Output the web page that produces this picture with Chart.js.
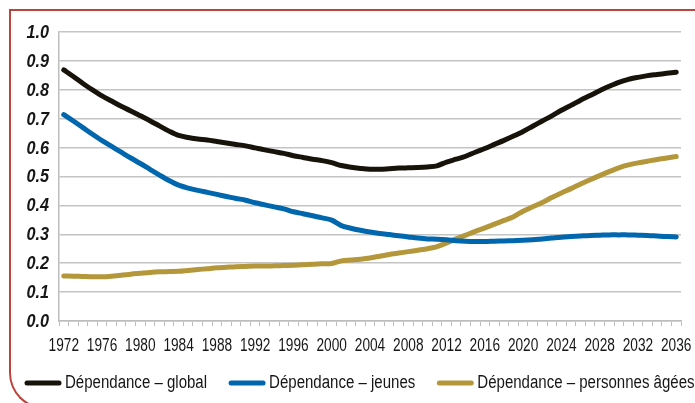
<!DOCTYPE html>
<html>
<head>
<meta charset="utf-8">
<script src="https://cdn.jsdelivr.net/npm/chart.js@4/dist/chart.umd.min.js"></script>
<style>
  html, body { margin: 0; padding: 0; background: #fff; }
  #wrap { position: relative; width: 695px; height: 403px; overflow: hidden; }
  #frame {
    position: absolute; left: 9px; top: 9px; width: 720px; height: 400px;
    border-top: 2px solid #b8453e; border-left: 2px solid #b8453e; border-bottom: 2px solid #b8453e;
    border-bottom-left-radius: 36px; box-sizing: border-box;
  }
  canvas { position: absolute; left: 0; top: 0; }
</style>
</head>
<body>
<div id="wrap">
  <div id="frame"></div>
  <canvas id="chart" width="695" height="403"></canvas>
</div>
<script>
const FONT = "'Liberation Sans', Arial, sans-serif";
const TEXT_COLOR = '#161616';

// années 1972 - 2036
const years = [];
for (let y = 1972; y <= 2036; y++) years.push(String(y));

const seriesLabels = ['Dépendance – global', 'Dépendance – jeunes', 'Dépendance – personnes âgées'];

const global = [
  0.869, 0.846, 0.822, 0.800, 0.779, 0.761, 0.743, 0.727, 0.710, 0.693,
  0.675, 0.657, 0.642, 0.635, 0.630, 0.626, 0.621, 0.616, 0.611, 0.606,
  0.599, 0.592, 0.586, 0.580, 0.572, 0.566, 0.560, 0.555, 0.548, 0.538,
  0.532, 0.528, 0.525, 0.525, 0.527, 0.529, 0.530, 0.531, 0.533, 0.537,
  0.550, 0.560, 0.570, 0.584, 0.597, 0.611, 0.625, 0.640, 0.656, 0.674,
  0.692, 0.710, 0.729, 0.746, 0.764, 0.780, 0.797, 0.812, 0.826, 0.836,
  0.843, 0.849, 0.853, 0.857, 0.861
];

const jeunes = [
  0.714, 0.692, 0.669, 0.646, 0.624, 0.604, 0.584, 0.564, 0.545, 0.525,
  0.505, 0.486, 0.470, 0.460, 0.452, 0.445, 0.438, 0.431, 0.424, 0.418,
  0.409, 0.402, 0.395, 0.388, 0.378, 0.371, 0.364, 0.357, 0.349, 0.330,
  0.321, 0.314, 0.308, 0.303, 0.299, 0.295, 0.291, 0.287, 0.284, 0.283,
  0.281, 0.278, 0.276, 0.275, 0.275, 0.276, 0.277, 0.278, 0.279, 0.281,
  0.284, 0.287, 0.290, 0.292, 0.294, 0.296, 0.297, 0.298, 0.298, 0.298,
  0.297, 0.296, 0.294, 0.292, 0.291
];

const agees = [
  0.156, 0.155, 0.154, 0.153, 0.153, 0.155, 0.158, 0.162, 0.165, 0.168,
  0.170, 0.171, 0.172, 0.175, 0.178, 0.181, 0.184, 0.186, 0.188, 0.189,
  0.190, 0.190, 0.191, 0.192, 0.193, 0.195, 0.196, 0.198, 0.199, 0.208,
  0.211, 0.214, 0.218, 0.224, 0.230, 0.235, 0.240, 0.245, 0.250, 0.257,
  0.270, 0.284, 0.297, 0.310, 0.322, 0.335, 0.348, 0.361, 0.380, 0.395,
  0.410, 0.427, 0.443, 0.458, 0.474, 0.489, 0.503, 0.517, 0.530, 0.540,
  0.547, 0.553, 0.559, 0.564, 0.569
];

const colors = ['#17130b', '#0066ad', '#b5973b'];

function makeDataset(label, data, color) {
    return {
        label: label,
        data: data,
        borderColor: color,
        backgroundColor: color,
        borderWidth: 5,
        pointRadius: 0,
        tension: 0.3,
        borderCapStyle: 'round',
        fill: false
    };
}

// texte condensé (pas de police étroite installée)
function drawText(ctx, text, x, y, sx, align, font) {
    ctx.save();
    ctx.font = font;
    ctx.fillStyle = TEXT_COLOR;
    ctx.textBaseline = 'middle';
    ctx.textAlign = align;
    ctx.translate(x, y);
    ctx.scale(sx, 1);
    ctx.fillText(text, 0, 0);
    ctx.restore();
}

const textPlugin = {
    id: 'condensedText',
    afterDraw(chart) {
        const ctx = chart.ctx;
        const xs = chart.scales.x, ys = chart.scales.y;

        // axe y
        ys.ticks.forEach(t => {
            drawText(ctx, t.value.toFixed(1), 49, ys.getPixelForValue(t.value) + 1, 0.9, 'right',
                'italic bold 18px ' + FONT);
        });

        // axe x
        years.forEach((yr, i) => {
            if (i % 4 !== 0) return;
            drawText(ctx, yr, xs.getPixelForValue(i), 346, 0.76, 'center', '18px ' + FONT);
        });

        // légende
        const legendFont = '18px ' + FONT;
        const sx = 0.835;
        let x = 25;
        const y = 383;
        ctx.save();
        ctx.font = legendFont;
        chart.data.datasets.forEach((ds, i) => {
            ctx.save();
            ctx.strokeStyle = ds.borderColor;
            ctx.lineWidth = 5;
            ctx.lineCap = 'round';
            ctx.beginPath();
            ctx.moveTo(x + 2, y);
            ctx.lineTo(x + 34, y);
            ctx.stroke();
            ctx.restore();
            const w = ctx.measureText(ds.label).width * sx;
            drawText(ctx, ds.label, x + 40, y, sx, 'left', legendFont);
            x += 40 + w + 22;
        });
        ctx.restore();
    }
};

const ctx = document.getElementById('chart').getContext('2d');
new Chart(ctx, {
    type: 'line',
    data: {
        labels: years,
        datasets: [
            makeDataset(seriesLabels[0], global, colors[0]),
            makeDataset(seriesLabels[1], jeunes, colors[1]),
            makeDataset(seriesLabels[2], agees, colors[2])
        ]
    },
    plugins: [textPlugin],
    options: {
        responsive: false,
        animation: false,
        layout: { padding: { left: 0, right: 14, top: 32, bottom: 52 } },
        plugins: {
            tooltip: { enabled: false },
            legend: { display: false }
        },
        scales: {
            x: {
                offset: true,
                grid: {
                    offset: true,
                    drawOnChartArea: false,
                    drawTicks: true,
                    tickLength: 5,
                    color: '#bdbdbd'
                },
                border: { display: true, color: '#bdbdbd', width: 1.5 },
                ticks: {
                    autoSkip: false,
                    maxRotation: 0,
                    minRotation: 0,
                    color: 'rgba(0,0,0,0)',
                    font: { family: FONT, size: 10 },
                    callback: function (value, index) {
                        return index % 4 === 0 ? years[index] : '';
                    }
                },
                afterFit: function (scale) { scale.height = 30; }
            },
            y: {
                min: 0,
                max: 1,
                grid: { color: '#c4c4c4', lineWidth: 1.5, drawTicks: false },
                border: { display: true, color: '#bdbdbd', width: 1.5 },
                ticks: {
                    stepSize: 0.1,
                    color: 'rgba(0,0,0,0)',
                    font: { family: FONT, size: 10 },
                    callback: function (value) { return value.toFixed(1); }
                },
                afterFit: function (scale) { scale.width = 59; }
            }
        }
    }
});
</script>
</body>
</html>
